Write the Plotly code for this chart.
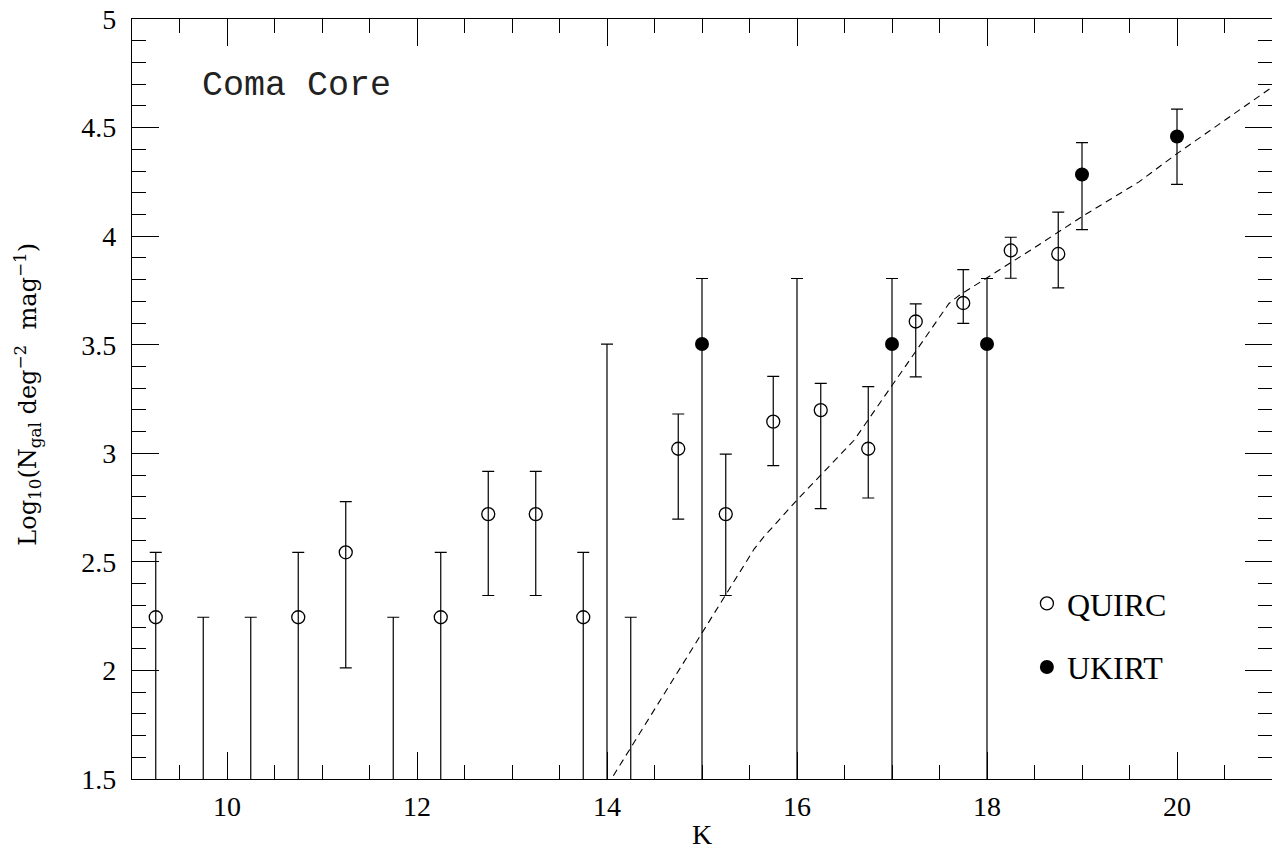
import plotly.graph_objects as go

# QUIRC counts: magnitude bin centres, log10 surface density and error-bar ends
quirc_k = [9.25, 10.75, 11.25, 12.25, 12.75, 13.25, 13.75, 14.75,
           15.25, 15.75, 16.25, 16.75, 17.25, 17.75, 18.25, 18.75]
quirc_val = [2.245, 2.245, 2.544, 2.245, 2.720, 2.720, 2.245, 3.021,
             2.720, 3.146, 3.199, 3.021, 3.607, 3.692, 3.934, 3.918]
quirc_hi = [2.544, 2.544, 2.777, 2.544, 2.917, 2.917, 2.544, 3.181,
            2.996, 3.354, 3.322, 3.307, 3.688, 3.846, 3.995, 4.111]
quirc_lo = [None, None, 2.012, None, 2.345, 2.345, None, 2.697,
            2.345, 2.943, 2.745, 2.794, 3.352, 3.598, 3.806, 3.762]

# QUIRC bins with no detections: only the upper bound is shown
quirc_lim_k = [9.75, 10.25, 11.75, 14.25]
quirc_lim_hi = [2.245, 2.245, 2.245, 2.245]

# UKIRT counts
ukirt_k = [15.0, 17.0, 18.0, 19.0, 20.0]
ukirt_val = [3.503, 3.503, 3.503, 4.284, 4.459]
ukirt_hi = [3.805, 3.805, 3.805, 4.431, 4.585]
ukirt_lo = [None, None, None, 4.030, 4.238]

# UKIRT bins with no detections
ukirt_lim_k = [14.0, 16.0]
ukirt_lim_hi = [3.503, 3.805]

# model counts (dashed curve)
model_k = [14.0, 15.0, 15.55, 15.65, 16.0, 16.6, 17.0, 17.6, 17.7,
           18.0, 18.5, 19.0, 19.6, 20.0, 20.5, 21.0]
model_val = [1.468, 2.170, 2.560, 2.615, 2.785, 3.060, 3.310, 3.690, 3.725,
             3.807, 3.947, 4.090, 4.250, 4.380, 4.533, 4.686]

X_RANGE = [9, 21]
Y_RANGE = [1.5, 5]
FLOOR = 0.0  # unbounded lower errors run off the bottom of the axes

SERIF = "Liberation Serif"
INK = "black"


def err_minus(vals, los):
    return [v - (FLOOR if lo is None else lo) for v, lo in zip(vals, los)]


def err_plus(vals, his):
    return [h - v for v, h in zip(vals, his)]


def ebar(plus, minus):
    return dict(type="data", symmetric=False, array=plus, arrayminus=minus,
                color=INK, thickness=1.2, width=6)


fig = go.Figure()

fig.add_trace(go.Scatter(
    x=model_k, y=model_val, mode="lines",
    line=dict(color=INK, width=1.1, dash="7px,5px"),
    showlegend=False, hoverinfo="skip"))

fig.add_trace(go.Scatter(
    x=quirc_lim_k, y=quirc_lim_hi, mode="markers",
    marker=dict(size=1, opacity=0),
    error_y=ebar([0] * len(quirc_lim_k), [h - FLOOR for h in quirc_lim_hi]),
    showlegend=False, hoverinfo="skip"))

fig.add_trace(go.Scatter(
    x=ukirt_lim_k, y=ukirt_lim_hi, mode="markers",
    marker=dict(size=1, opacity=0),
    error_y=ebar([0] * len(ukirt_lim_k), [h - FLOOR for h in ukirt_lim_hi]),
    showlegend=False, hoverinfo="skip"))

fig.add_trace(go.Scatter(
    x=quirc_k, y=quirc_val, mode="markers", name="QUIRC",
    legendgroup="q",
    marker=dict(symbol="circle-open", size=13, color=INK, line=dict(width=1.3, color=INK)),
    error_y=ebar(err_plus(quirc_val, quirc_hi), err_minus(quirc_val, quirc_lo))))

fig.add_trace(go.Scatter(
    x=ukirt_k, y=ukirt_val, mode="markers", name="UKIRT",
    legendgroup="u",
    marker=dict(symbol="circle", size=14, color=INK, line=dict(width=0)),
    error_y=ebar(err_plus(ukirt_val, ukirt_hi), err_minus(ukirt_val, ukirt_lo))))

axis_common = dict(
    showline=True, linecolor=INK, linewidth=1.3, mirror="allticks",
    ticks="inside", ticklen=27, tickwidth=1.2, tickcolor=INK,
    showgrid=False, zeroline=False,
    tickfont=dict(family=SERIF, size=28, color=INK),
)

fig.update_xaxes(
    range=X_RANGE, tickmode="linear", tick0=0, dtick=2,
    minor=dict(ticks="inside", ticklen=14, tickwidth=1.2, tickcolor=INK,
               dtick=0.5, tick0=0, showgrid=False),
    ticklabelstandoff=2,
    **axis_common)

fig.update_yaxes(
    range=Y_RANGE, tickmode="linear", tick0=0, dtick=0.5,
    minor=dict(ticks="inside", ticklen=14, tickwidth=1.2, tickcolor=INK,
               dtick=0.1, tick0=0, showgrid=False),
    ticklabelstandoff=9,
    **axis_common)

fig.add_annotation(
    text="Coma Core", xref="paper", yref="paper", x=0.0596, y=0.912,
    xanchor="left", yanchor="middle", showarrow=False,
    font=dict(family="Liberation Mono", size=35, color="#222222"))

fig.add_annotation(
    text="K", xref="paper", yref="paper", x=0.5, y=-0.0733,
    xanchor="center", yanchor="middle", showarrow=False,
    font=dict(family=SERIF, size=28, color=INK))

fig.add_annotation(
    text="Log<sub>10</sub>(N<sub>gal</sub> deg<sup>−2</sup>  mag<sup>−1</sup>)",
    xref="paper", yref="paper", x=-0.0912, y=0.5057, textangle=-90,
    xanchor="center", yanchor="middle", showarrow=False,
    font=dict(family="DejaVu Serif", size=24, color=INK))

fig.update_layout(
    width=1272, height=850,
    margin=dict(l=132, r=0, t=19, b=71),
    paper_bgcolor="white", plot_bgcolor="white",
    showlegend=True,
    legend=dict(x=0.785, y=0.267, xanchor="left", yanchor="top",
                bgcolor="rgba(0,0,0,0)", borderwidth=0,
                font=dict(family=SERIF, size=32, color=INK),
                traceorder="grouped", tracegroupgap=19, itemwidth=30),
)

fig.write_html("out.html")
